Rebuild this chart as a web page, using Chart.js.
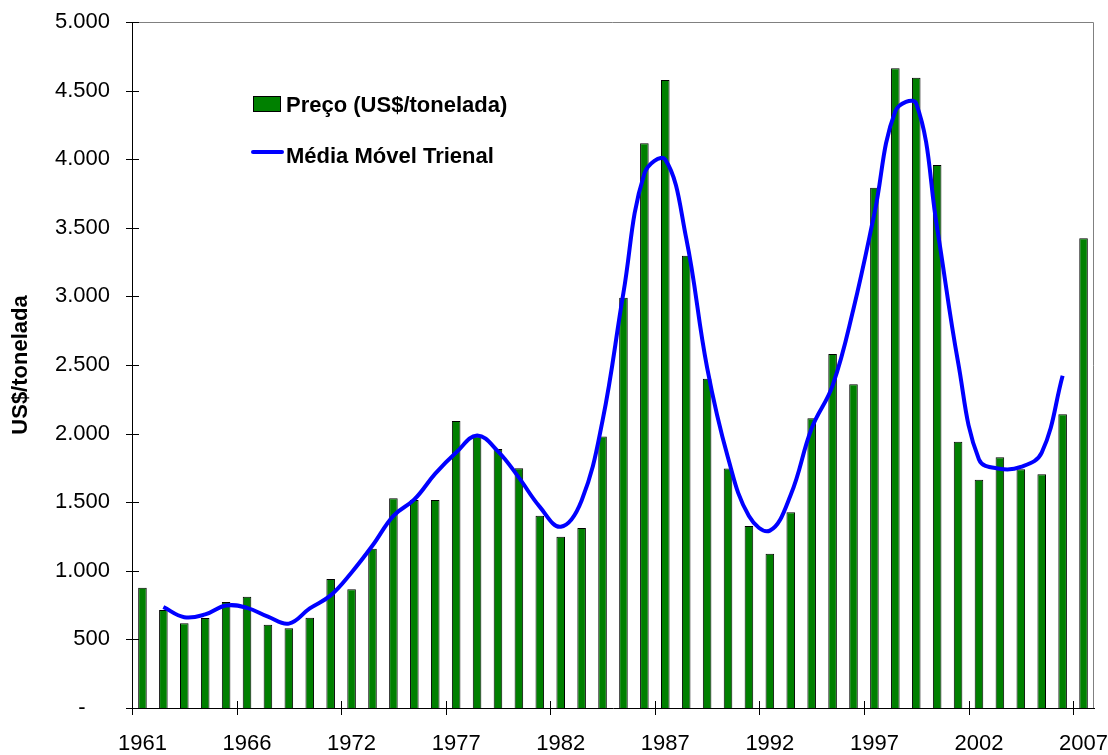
<!DOCTYPE html>
<html>
<head>
<meta charset="utf-8">
<script src="https://cdn.jsdelivr.net/npm/chart.js@4.4.1/dist/chart.umd.min.js"></script>
<style>
  body { margin: 0; background: #fff; }
  #wrap { width: 1108px; height: 755px; }
</style>
</head>
<body>
<div id="wrap"><canvas id="grafico"></canvas></div>
<script>
// anos (o eixo original pula de 1970 para 1972)
var anos = ['1961','1962','1963','1964','1965','1966','1967','1968','1969','1970',
            '1972','1973','1974','1975','1976','1977','1978','1979','1980','1981',
            '1982','1983','1984','1985','1986','1987','1988','1989','1990','1991',
            '1992','1993','1994','1995','1996','1997','1998','1999','2000','2001',
            '2002','2003','2004','2005','2006','2007'];

var preco = [877, 714, 617, 656, 773, 811, 607, 581, 658, 940,
             865, 1160, 1528, 1516, 1516, 2092, 1978, 1888, 1747, 1402,
             1249, 1312, 1978, 2991, 4116, 4577, 3297, 2400, 1745, 1327,
             1125, 1426, 2111, 2580, 2359, 3792, 4662, 4594, 3958, 1941,
             1664, 1827, 1740, 1703, 2141, 3423];

var mediaMovel = [null, 736, 662, 682, 747, 730, 666, 615, 726, 821,
                  988, 1184, 1401, 1520, 1708, 1862, 1986, 1871, 1679, 1466,
                  1321, 1513, 2094, 3028, 3895, 3997, 3425, 2481, 1824, 1399,
                  1293, 1554, 2039, 2350, 2910, 3604, 4349, 4405, 3498, 2521,
                  1811, 1744, 1757, 1861, 2422, null];

var fonte = 'Liberation Sans, Arial, sans-serif';

function formataMilhar(v){
    if (v === 0) return '-    ';
    return String(v).replace(/\B(?=(\d{3})+(?!\d))/g, '.');
}

var moldura = {
    id: 'moldura',
    afterDraw: function(chart){
        var ctx = chart.ctx, a = chart.chartArea;
        var x = chart.scales.x, y = chart.scales.y;
        ctx.save();
        // borda superior e direita
        ctx.strokeStyle = '#808080';
        ctx.lineWidth = 1;
        ctx.beginPath();
        ctx.moveTo(a.left, a.top + 0.5);
        ctx.lineTo(a.right - 0.5, a.top + 0.5);
        ctx.lineTo(a.right - 0.5, a.bottom);
        ctx.stroke();
        // marcas do eixo Y
        ctx.strokeStyle = '#000';
        y.ticks.forEach(function(t){
            var py = Math.round(y.getPixelForValue(t.value)) + 0.5;
            ctx.beginPath();
            ctx.moveTo(a.left - 6, py);
            ctx.lineTo(a.left + 7, py);
            ctx.stroke();
        });
        // marcas do eixo X, a cada 5 categorias
        var larg = (x.right - x.left) / anos.length;
        anos.forEach(function(ano, i){
            if (i % 5 !== 0) return;
            var px = Math.round(x.getPixelForValue(i) - larg / 2) + 0.5;
            ctx.beginPath();
            ctx.moveTo(px, a.bottom - 7);
            ctx.lineTo(px, a.bottom + 7);
            ctx.stroke();
        });
        // legenda dentro da area
        var ds = chart.data.datasets;
        var lx = a.left + 121;
        ctx.font = 'bold 22px ' + fonte;
        ctx.textBaseline = 'alphabetic';
        ctx.textAlign = 'left';
        // barra
        ctx.fillStyle = ds[1].backgroundColor;
        ctx.fillRect(lx, a.top + 74, 27, 15);
        ctx.strokeStyle = '#000';
        ctx.strokeRect(lx + 0.5, a.top + 74.5, 27, 15);
        ctx.fillStyle = '#000';
        ctx.fillText(ds[1].label, lx + 33, a.top + 90);
        // linha
        ctx.strokeStyle = ds[0].borderColor;
        ctx.lineWidth = 4;
        ctx.lineCap = 'round';
        ctx.beginPath();
        ctx.moveTo(lx, a.top + 130);
        ctx.lineTo(lx + 29, a.top + 130);
        ctx.stroke();
        ctx.fillText(ds[0].label, lx + 33, a.top + 141);
        ctx.restore();
    }
};

var ctx = document.getElementById('grafico').getContext('2d');
var chart = new Chart(ctx, {
    type: 'bar',
    data: {
        labels: anos,
        datasets: [{
            type: 'line',
            label: 'Média Móvel Trienal',
            data: mediaMovel,
            borderColor: '#0000FF',
            borderWidth: 4,
            pointRadius: 0,
            tension: 0.4,
            fill: false,
            order: 1
        }, {
            label: 'Preço (US$/tonelada)',
            data: preco,
            backgroundColor: '#008000',
            borderColor: '#000000',
            borderWidth: 1,
            categoryPercentage: 1.0,
            barPercentage: 0.41,
            order: 2
        }]
    },
    options: {
        responsive: true,
        maintainAspectRatio: false,
        animation: false,
        layout: { padding: { left: 0, top: 22, right: 14, bottom: 0 } },
        plugins: {
            legend: { display: false },
            tooltip: { enabled: false }
        },
        scales: {
            x: {
                grid: { display: false, drawTicks: false },
                border: { display: true, color: '#000', width: 1 },
                ticks: {
                    autoSkip: false,
                    maxRotation: 0,
                    padding: 23,
                    color: '#000',
                    font: { family: fonte, size: 22 },
                    callback: function(v, i){ return i % 5 === 0 ? anos[i] : ''; }
                },
                afterFit: function(s){
                    s.height = 47;
                    s.paddingLeft = 0;
                    s.paddingRight = 0;
                }
            },
            y: {
                min: 0,
                max: 5000,
                grid: { display: false, drawTicks: false },
                border: { display: true, color: '#000', width: 1 },
                ticks: {
                    stepSize: 500,
                    padding: 22,
                    color: '#000',
                    font: { family: fonte, size: 22 },
                    callback: function(v){ return formataMilhar(v); }
                },
                title: {
                    display: true,
                    text: 'US$/tonelada',
                    color: '#000',
                    padding: { top: 8, bottom: 0 },
                    font: { family: fonte, size: 22, weight: 'bold' }
                },
                afterFit: function(s){
                    s.width = 132;
                    s.paddingTop = 0;
                    s.paddingBottom = 0;
                }
            }
        }
    },
    plugins: [moldura]
});
</script>
</body>
</html>
